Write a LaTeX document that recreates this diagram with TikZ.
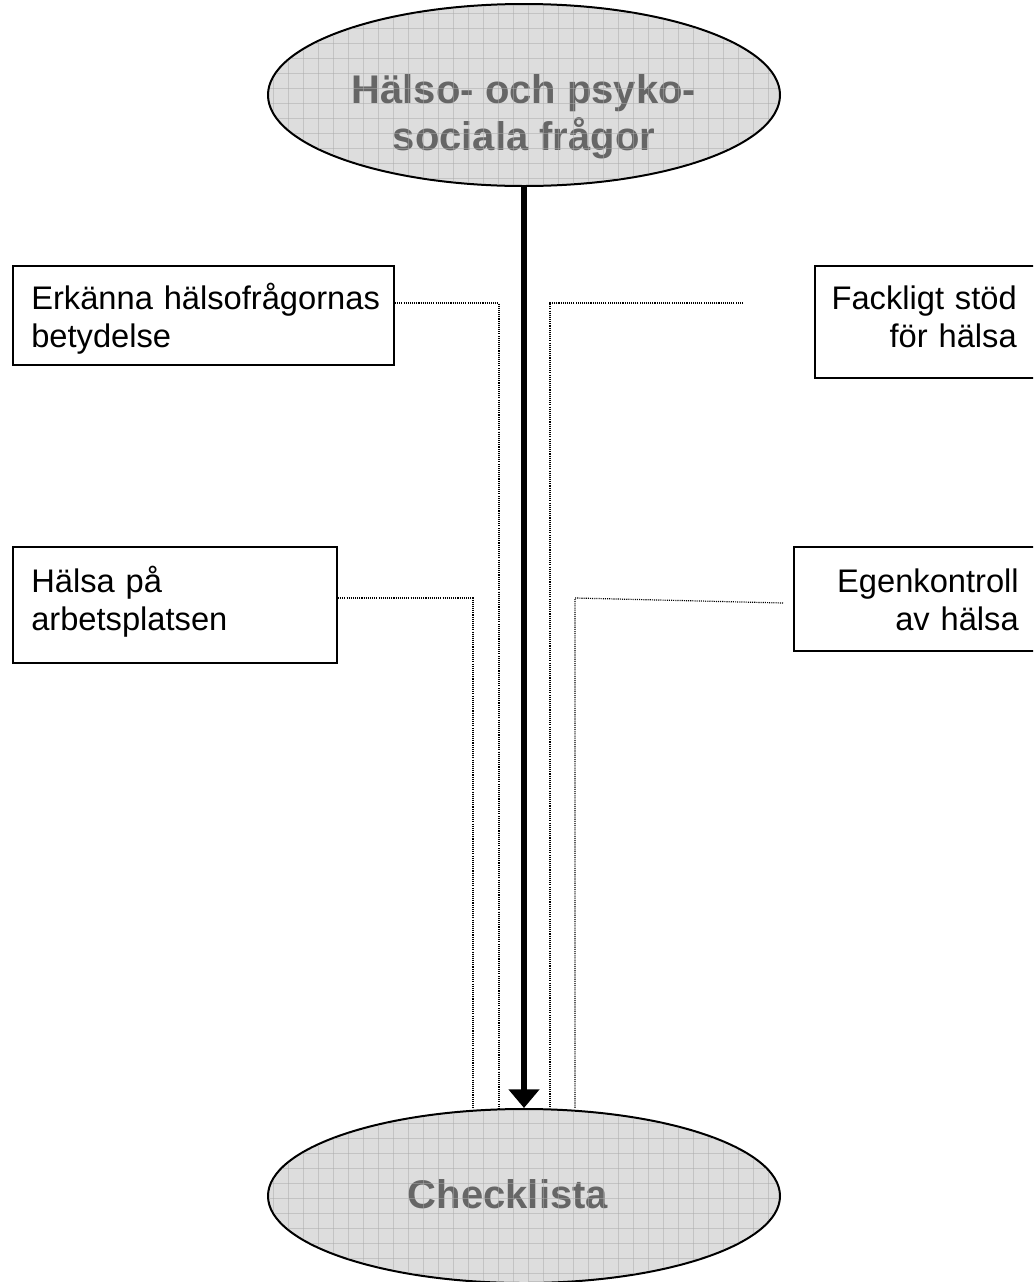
\documentclass[tikz,border=0pt]{standalone}
\usepackage{fontspec}
\setmainfont{Liberation Sans}
\usetikzlibrary{shapes.geometric,arrows.meta}

\definecolor{ovalfill}{gray}{0.867}
\definecolor{ovaltext}{HTML}{666666}
\definecolor{gridline}{RGB}{171,171,171}

\begin{document}
\begin{tikzpicture}[x=0.75pt,y=-0.75pt,
  oval/.style={ellipse, draw, line width=1.5pt, fill=ovalfill, inner sep=0pt,
    minimum width=384pt},
  ovallabel/.style={inner sep=0pt, align=center, text=ovaltext,
    font=\fontsize{30pt}{35pt}\selectfont\bfseries},
  topicbox/.style={draw, line width=1.5pt, inner sep=0pt, anchor=north west},
  lefttext/.style={inner sep=0pt, anchor=base west, text width=290pt, align=left,
    font=\fontsize{24.5pt}{28.5pt}\selectfont},
  righttext/.style={inner sep=0pt, anchor=base east, text width=170pt, align=right,
    font=\fontsize{24.5pt}{28.5pt}\selectfont},
  link/.style={line width=0.9pt, dash pattern=on 0.8pt off 0.8pt},
  mainflow/.style={line width=4.5pt, -{Triangle[length=14pt, width=22.5pt]}},
  gridrule/.style={draw=gridline, opacity=0.5, line width=0.75pt}
]
\path[use as bounding box, clip] (0,0) rectangle (1033,1282);

% the two ovals
\node[oval, minimum height=136.5pt] (top) at (524,95) {};
\node[oval, minimum height=130.5pt] (bot) at (524,1196) {};

\node[ovallabel] (toplabel) at (524,117) {Hälso- och psyko-\\sociala frågor};
\node[ovallabel] (botlabel) at (508,1194) {Checklista};

% squared paper pattern over the ovals
\begin{scope}
  \clip (top.center) ellipse [x radius=191pt, y radius=67.5pt];
  \foreach \gx in {258,273,...,798} \path[gridrule] (\gx,0) -- (\gx,200);
  \foreach \gy in {13,28,...,193} \path[gridrule] (250,\gy) -- (800,\gy);
\end{scope}
\begin{scope}
  \clip (bot.center) ellipse [x radius=191pt, y radius=64.5pt];
  \foreach \gx in {258,273,...,798} \path[gridrule] (\gx,1100) -- (\gx,1300);
  \foreach \gy in {1108,1123,...,1298} \path[gridrule] (250,\gy) -- (800,\gy);
\end{scope}

% topic boxes
\node[topicbox, minimum width=285.75pt, minimum height=74.25pt] (b1) at (12,265) {};
\node[topicbox, minimum width=243pt, minimum height=87pt] (b2) at (12,546) {};
\node[topicbox, minimum width=173.25pt, minimum height=84pt] (b3) at (814,265) {};
\node[topicbox, minimum width=189pt, minimum height=78pt] (b4) at (793,546) {};

\node[lefttext] (t1) at (31,309) {Erkänna hälsofrågornas\\betydelse};
\node[lefttext] (t2) at (31,592) {Hälsa på\\arbetsplatsen};
\node[righttext] (t3) at (1017,309) {Fackligt stöd\\för hälsa};
\node[righttext] (t4) at (1019,592) {Egenkontroll\\av hälsa};

% bend points of the dotted links
\coordinate (j1) at (499,303);
\coordinate (j2) at (473,598);
\coordinate (j3) at (550,303);
\coordinate (j4) at (575,598);
\coordinate (e3) at (743,303);
\coordinate (e4) at (783,603);

\draw[link] (b1.east |- j1) -- (j1) -- (j1 |- bot.north);
\draw[link] (b2.east |- j2) -- (j2) -- (j2 |- bot.north);
\draw[link] (e3) -- (j3) -- (j3 |- bot.north);
\draw[link] (e4) -- (j4) -- (j4 |- bot.north);

% main flow
\draw[mainflow] (top.south) -- (bot.north);
\end{tikzpicture}
\end{document}
